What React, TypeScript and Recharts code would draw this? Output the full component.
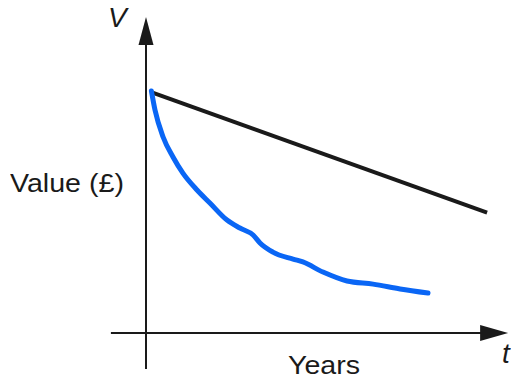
import React from "react";
import { LineChart, Line, XAxis, YAxis, ReferenceLine, ReferenceDot } from "recharts";

// years vs value (value 100 = starting price)
const straightYears = [0.17, 11.37];
const straightValues = [100, 50];

const curveYears = [0.18, 0.3, 0.57, 0.9, 1.23, 1.7, 2.13, 2.7, 3.13, 3.57, 3.8, 4.23, 4.9, 5.23, 5.9, 6.7, 7.57, 8.47, 9.4];
const curveValues = [100.5, 92.6, 81.4, 73.1, 66.4, 59.4, 54.0, 46.9, 43.6, 40.7, 37.4, 33.6, 30.7, 29.5, 25.3, 21.6, 20.3, 18.3, 16.6];

const straightData = straightYears.map((t, i) => ({ t, v: straightValues[i] }));
const curveData = curveYears.map((t, i) => ({ t, v: curveValues[i] }));

const INK = "#1a1a1a";
const BLUE = "#0a66f5";
const font = "'Liberation Sans', Arial, Helvetica, sans-serif";

const upArrow = (p: any) => (
  <polygon points={`${p.cx},${p.cy} ${p.cx - 7.5},${p.cy + 28} ${p.cx + 7.5},${p.cy + 28}`} fill={INK} />
);
const rightArrow = (p: any) => (
  <polygon points={`${p.cx},${p.cy} ${p.cx - 28},${p.cy - 8} ${p.cx - 28},${p.cy + 8}`} fill={INK} />
);

export default function App() {
  return (
    <div style={{ position: "absolute", left: 0, top: 0, width: 511, height: 383, background: "#fff" }}>
      <LineChart width={511} height={383} margin={{ top: 20, right: 5, bottom: 50, left: 146 }}>
        <XAxis type="number" dataKey="t" domain={[0, 12]} hide />
        <YAxis type="number" dataKey="v" domain={[0, 130]} hide />
        <ReferenceLine segment={[{ x: 0, y: -15 }, { x: 0, y: 119.6 }]} stroke={INK} strokeWidth={2} ifOverflow="visible" />
        <ReferenceLine segment={[{ x: -1.17, y: 0 }, { x: 11.2, y: 0 }]} stroke={INK} strokeWidth={2} ifOverflow="visible" />
        <ReferenceDot x={0} y={131.2} shape={upArrow} ifOverflow="visible" />
        <ReferenceDot x={12.07} y={0} shape={rightArrow} ifOverflow="visible" />
        <Line data={straightData} dataKey="v" type="linear" stroke={INK} strokeWidth={4} dot={false} isAnimationActive={false} />
        <Line data={curveData} dataKey="v" type="monotone" stroke={BLUE} strokeWidth={5} strokeLinecap="round" dot={false} isAnimationActive={false} />
      </LineChart>
      <div style={{ position: "absolute", left: 108, top: 2, fontFamily: font, fontStyle: "italic", fontSize: 28, color: INK }}>V</div>
      <div style={{ position: "absolute", left: 502, top: 338, fontFamily: font, fontStyle: "italic", fontSize: 28, color: INK }}>t</div>
      <div style={{ position: "absolute", left: 10, top: 168, fontFamily: font, fontSize: 26, color: INK, transformOrigin: "left", transform: "scaleX(1.1)" }}>Value (£)</div>
      <div style={{ position: "absolute", left: 288, top: 350, fontFamily: font, fontSize: 26, color: INK, transformOrigin: "left", transform: "scaleX(1.1)" }}>Years</div>
    </div>
  );
}
